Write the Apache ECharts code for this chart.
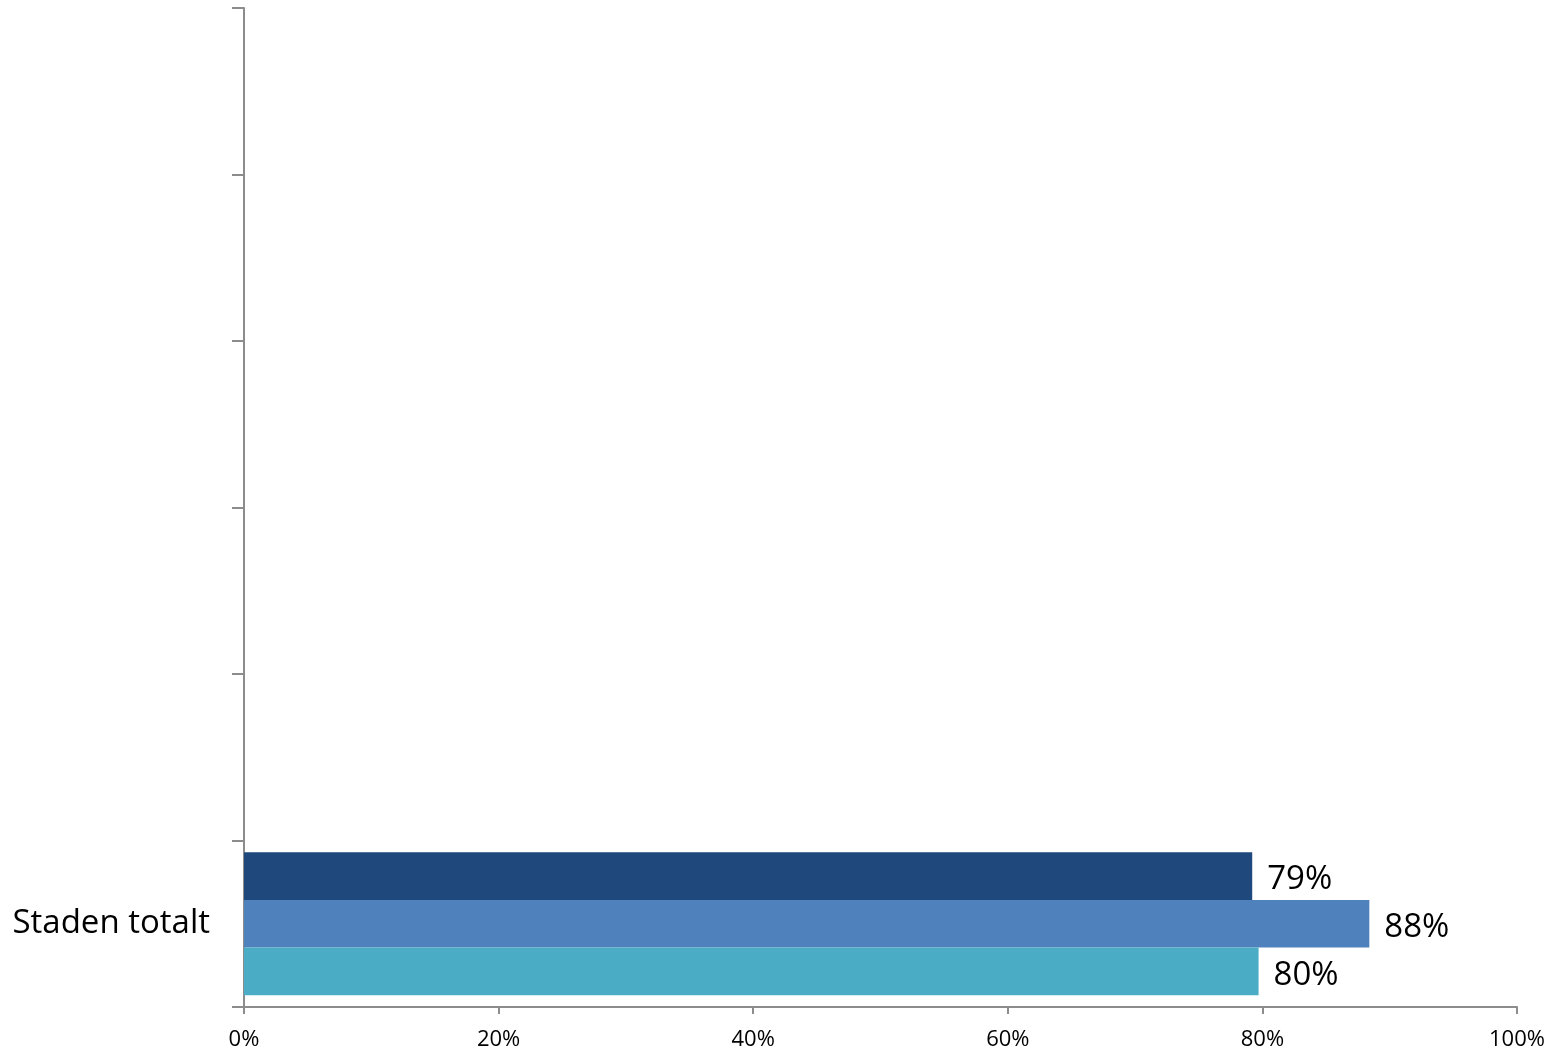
<!DOCTYPE html>
<html>
<head>
<meta charset="utf-8">
<script src="https://cdn.jsdelivr.net/npm/echarts@6/dist/echarts.min.js"></script>
<style>
  html, body { margin: 0; padding: 0; background: #fff; }
  #chart { width: 1560px; height: 1055px; }
</style>
</head>
<body>
<div id="chart"></div>
<script>
// kategorier (nerifrån och upp), bara den nedersta har data
var categories = ['Staden totalt', '', '', '', '', '']
// serier, första hamnar överst inom kategorin
var seriesNames = ['Serie 1', 'Serie 2', 'Serie 3']
var seriesColors = ['#1F497D', '#4F81BD', '#4BACC6']
var seriesValues = [
  [79.2, null, null, null, null, null],
  [88.4, null, null, null, null, null],
  [79.7, null, null, null, null, null]
]
var xTicks = [0, 20, 40, 60, 80, 100]

var chart = echarts.init(document.getElementById('chart'))

var font = "'Open Sans', 'Noto Sans', sans-serif"
var series = seriesNames.map(function (name, i) {
  return {
    name: name,
    type: 'bar',
    data: seriesValues[i],
    barGap: '0%',
    barCategoryGap: '14%',
    itemStyle: { color: seriesColors[i] },
    label: {
      show: true,
      position: 'right',
      distance: 15,
      offset: [0, 4],
      fontFamily: font,
      fontSize: 33,
      color: '#000',
      formatter: function (p) { return Math.round(p.value) + '%' }
    }
  }
})

chart.setOption({
  animation: false,
  grid: { left: 244, right: 43, top: 8, bottom: 48 },
  xAxis: {
    type: 'value',
    min: xTicks[0],
    max: xTicks[xTicks.length - 1],
    interval: 20,
    splitLine: { show: false },
    axisLine: { show: true, lineStyle: { color: '#8c8c8c', width: 2 } },
    axisTick: { show: true, length: 7, lineStyle: { color: '#8c8c8c', width: 2 } },
    axisLabel: {
      margin: 22,
      fontFamily: font,
      fontSize: 22,
      color: '#000',
      formatter: '{value}%'
    }
  },
  yAxis: {
    type: 'category',
    data: categories,
    axisLine: { show: true, lineStyle: { color: '#8c8c8c', width: 2 } },
    axisTick: { show: true, length: 12, lineStyle: { color: '#8c8c8c', width: 2 } },
    axisLabel: {
      margin: 34,
      fontFamily: font,
      fontSize: 33,
      color: '#000'
    }
  },
  series: series
})
</script>
</body>
</html>
